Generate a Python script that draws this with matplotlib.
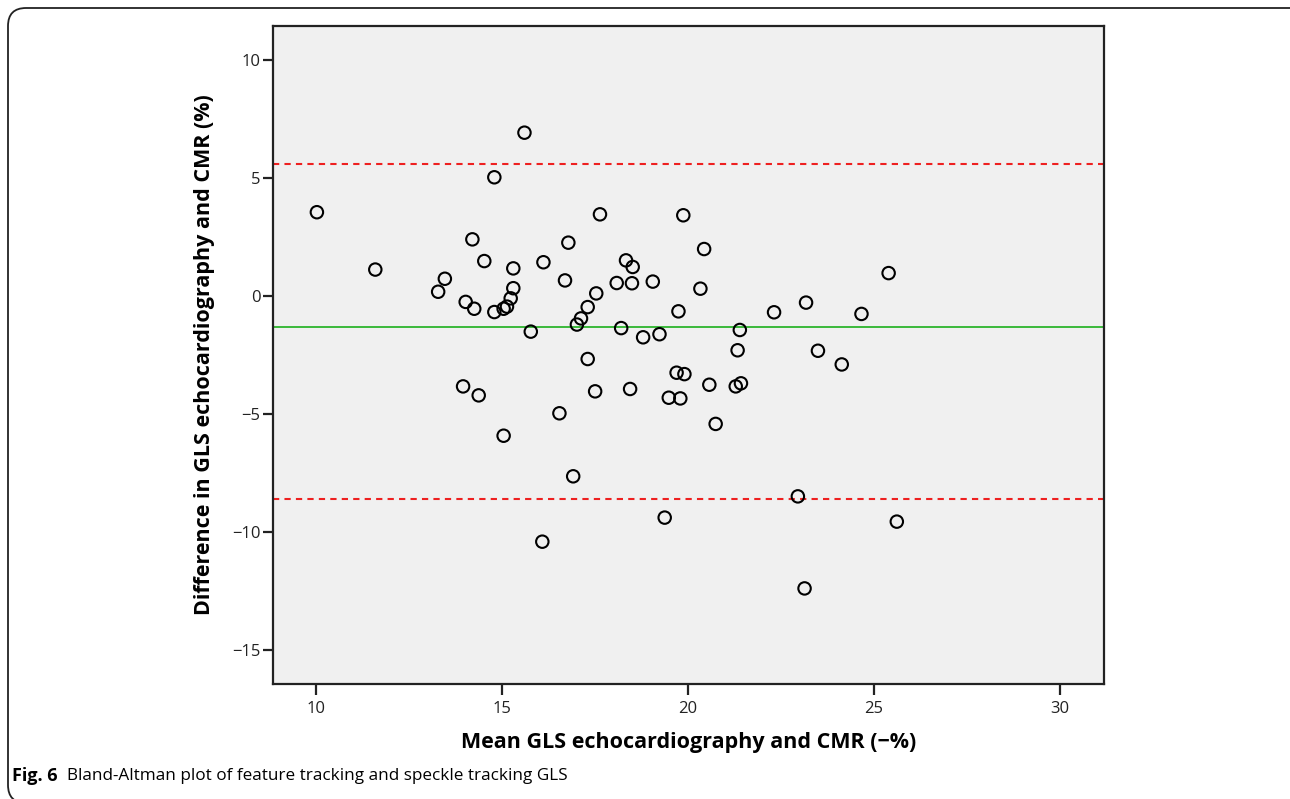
#!/usr/bin/env python3
# Bland-Altman plot: feature tracking vs speckle tracking GLS

import numpy as np
import matplotlib
matplotlib.use('Agg')
import matplotlib.pyplot as plt
from matplotlib.patches import FancyBboxPatch

####################
# Data             #
####################

# mean GLS (-%)
mean_gls = [10.02, 11.59, 15.60, 14.79, 14.20, 14.52, 13.46, 13.28, 14.02, 14.25,
            14.79, 15.04, 15.13, 15.23, 15.30, 15.30, 16.11, 15.77, 16.69, 16.78,
            17.63, 17.53, 17.30, 17.12, 17.01, 18.33, 18.51, 18.08, 18.49, 19.05,
            19.87, 19.74, 18.20, 18.79, 19.23,
            20.43, 20.33, 21.39, 22.31, 23.17, 24.66, 25.39,
            17.30, 19.69, 19.90, 13.95, 14.37, 17.50, 18.44, 19.48, 19.79, 16.54,
            15.04, 16.91, 19.37, 16.08,
            21.33, 23.49, 24.13, 20.57, 21.28, 21.42, 20.74, 22.95, 25.61, 23.13]

# difference in GLS (%)
diff_gls = [3.55, 1.12, 6.92, 5.03, 2.40, 1.48, 0.73, 0.18, -0.25, -0.54,
            -0.68, -0.54, -0.45, -0.10, 0.33, 1.17, 1.43, -1.51, 0.66, 2.26,
            3.46, 0.11, -0.47, -0.95, -1.21, 1.51, 1.23, 0.55, 0.54, 0.61,
            3.42, -0.65, -1.36, -1.75, -1.62,
            1.99, 0.31, -1.44, -0.69, -0.28, -0.76, 0.97,
            -2.67, -3.25, -3.31, -3.83, -4.21, -4.04, -3.94, -4.31, -4.34, -4.97,
            -5.92, -7.64, -9.39, -10.41,
            -2.30, -2.32, -2.90, -3.76, -3.83, -3.70, -5.42, -8.49, -9.56, -12.39]

bias = -1.3
loa_upper = 5.6
loa_lower = -8.6

x_ticks = [10, 15, 20, 25, 30]
y_ticks = [10, 5, 0, -5, -10, -15]

####################
# Figure           #
####################

W, H = 1290, 799
fig = plt.figure(figsize=(W / 100, H / 100), dpi=100)

# rounded caption frame (right and bottom edges run off the picture)
frame = FancyBboxPatch((8 / W, 1 - 803 / H), 1320 / W, 795 / H,
                       boxstyle='round,pad=0,rounding_size=0.014',
                       transform=fig.transFigure, facecolor='none',
                       edgecolor='#222222', linewidth=1.3, mutation_aspect=W / H)
fig.patches.append(frame)

# axes box in pixel coordinates
left, top, right, bottom = 273, 26, 1104, 684
ax = fig.add_axes([left / W, 1 - bottom / H, (right - left) / W, (bottom - top) / H])
ax.set_facecolor('#f0f0f0')

ax.scatter(mean_gls, diff_gls, s=80, facecolors='none', edgecolors='black',
           linewidths=1.5, zorder=3)
ax.axhline(bias, color='#2db52d', linewidth=1.3, zorder=2)
ax.axhline(loa_upper, color='#ee2020', linewidth=1.5, linestyle=(0, (3, 2.5)), zorder=2)
ax.axhline(loa_lower, color='#ee2020', linewidth=1.5, linestyle=(0, (3, 2.5)), zorder=2)

ax.set_xlim(8.84, 31.18)
ax.set_ylim(-16.44, 11.44)
ax.set_xticks(x_ticks)
ax.set_yticks(y_ticks)
ax.set_xticklabels([str(t) for t in x_ticks])
ax.set_yticklabels([str(t).replace('-', '\u2212') for t in y_ticks])

for s in ax.spines.values():
    s.set_linewidth(1.6)
    s.set_color('#222222')
ax.tick_params(axis='both', direction='out', width=1.6, color='#222222',
               labelsize=12, labelcolor='#222222')
ax.tick_params(axis='x', length=8, pad=4)
ax.tick_params(axis='y', length=7, pad=2)
for lab in ax.get_xticklabels() + ax.get_yticklabels():
    lab.set_family('Open Sans')

ax.set_xlabel('Mean GLS echocardiography and CMR (\u2212%)', fontsize=15.5,
              fontweight='bold', family='Open Sans', labelpad=11)
ax.set_ylabel('Difference in GLS echocardiography and CMR (%)', fontsize=15.5,
              fontweight='bold', family='Open Sans', labelpad=12)

# caption
fig.text(12 / W, 1 - 776 / H, 'Fig. 6', fontsize=13, fontweight='bold',
         family='Open Sans', va='center', ha='left')
fig.text(67 / W, 1 - 776 / H, 'Bland-Altman plot of feature tracking and speckle tracking GLS',
         fontsize=12.3, family='Open Sans', va='center', ha='left')

fig.savefig('out.png', dpi=100)
